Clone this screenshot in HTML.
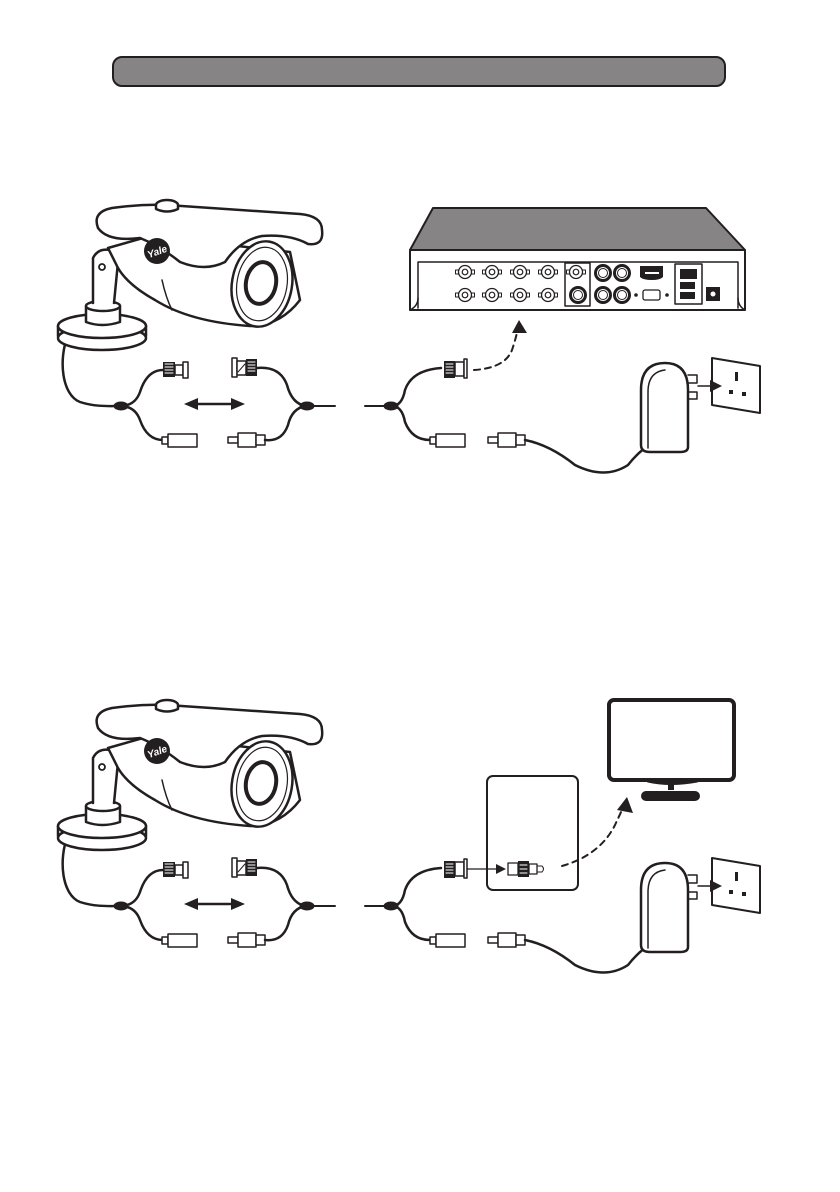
<!DOCTYPE html>
<html><head><meta charset="utf-8"><style>html,body{margin:0;padding:0;background:#fff}svg{display:block}</style></head>
<body>
<svg width="840" height="1192" viewBox="0 0 840 1192" xmlns="http://www.w3.org/2000/svg" fill="none" stroke="#231f20" stroke-linecap="round" stroke-linejoin="round">
<defs>
<g id="cam">
  <!-- base -->
  <path d="M68,335 C58,360 62,395 80,402 C95,407 110,406 120,406" stroke-width="2.5"/>
  <ellipse cx="102" cy="338" rx="44" ry="12" fill="#fff" stroke-width="2.5"/>
  <path d="M58,326 L58,336 M146,326 L146,336" stroke-width="2.5"/>
  <ellipse cx="102" cy="326" rx="44" ry="12" fill="#fff" stroke-width="2.5"/>
  <path d="M86,306 L86,322 Q102,328 120,322 L120,306 Z" fill="#fff" stroke-width="2.5"/>
  <ellipse cx="103" cy="306" rx="17" ry="5" fill="#fff" stroke-width="2.5"/>
  <!-- arm -->
  <path d="M93,303 L93,258 Q98,248 110,250 L118,262 L114,303" fill="#fff" stroke-width="2.5"/>
  <circle cx="102" cy="267" r="3" stroke-width="1.8"/>
  <!-- body -->
  <path d="M108,248 L150,236 L290,252 L300,300 Q280,326 250,326 Q190,322 155,300 Q128,285 118,268 Z" fill="#fff" stroke-width="2.5"/>
  <path d="M162,280 Q166,298 172,310" stroke-width="1.5"/>
  <!-- hood -->
  <path d="M98,228 Q92,212 112,208 Q140,204 167,205 Q240,210 300,214 Q322,216 322,230 Q324,246 308,244 Q290,234 262,236 Q240,240 225,262 Q205,272 180,262 Q160,246 140,238 Q108,242 98,228 Z" fill="#fff" stroke-width="2.5"/>
  <ellipse cx="167" cy="205" rx="11" ry="5" fill="#fff" stroke-width="2.5"/>
  <path d="M156,205 L156,209 Q167,214 178,209 L178,205" fill="#fff" stroke-width="2.5"/>
  <!-- lens -->
  <ellipse cx="262" cy="284" rx="30" ry="43" transform="rotate(10 262 284)" fill="#fff" stroke-width="2.5"/>
  <ellipse cx="262" cy="284" rx="25" ry="37" transform="rotate(10 262 284)" stroke-width="1.2"/>
  <ellipse cx="261" cy="283" rx="15" ry="21" transform="rotate(10 261 283)" stroke-width="4"/>
  <circle cx="157" cy="251" r="13" fill="#231f20" stroke="none"/>
  <text x="157" y="255" font-family="Liberation Sans, sans-serif" font-size="10" font-weight="bold" font-style="italic" fill="#fff" stroke="none" text-anchor="middle" transform="rotate(-20 157 251)">Yale</text>
  <!-- cable left -->
  <path d="M120,406 Q135,406 140,392 Q147,370 163,370" stroke-width="2.5"/>
  <path d="M120,406 Q135,406 140,420 Q147,440 163,440" stroke-width="2.5"/>
  <ellipse cx="121" cy="406" rx="7" ry="4" fill="#231f20"/>
  <!-- BNC female -->
  <rect x="163" y="362" width="12" height="15" fill="#231f20" stroke="none"/>
  <path d="M165,364 H173 M165,367 H173 M165,370 H173 M165,373 H173" stroke="#fff" stroke-width="1"/>
  <rect x="175" y="365" width="8" height="10" fill="#fff" stroke-width="1.5"/>
  <rect x="183" y="362" width="5" height="16" fill="#fff" stroke-width="1.5"/>
  <!-- DC female -->
  <rect x="162" y="437" width="6" height="7" fill="#fff" stroke-width="1.5"/>
  <rect x="168" y="434" width="29" height="13" fill="#fff" stroke-width="1.5"/>
  <!-- double arrow -->
  <path d="M195,404 H235" stroke-width="2.5"/>
  <path d="M184,404 L198,398 L198,410 Z M245,404 L231,398 L231,410 Z" fill="#231f20" stroke="none"/>
  <!-- BNC male -->
  <rect x="232" y="358" width="5" height="19" fill="#fff" stroke-width="1.5"/>
  <rect x="237" y="361" width="9" height="14" fill="#fff" stroke-width="1.5"/>
  <path d="M238,372 L245,364" stroke-width="1"/>
  <rect x="246" y="359" width="11" height="17" fill="#231f20" stroke="none"/>
  <path d="M248,362 H255 M248,365 H255 M248,368 H255 M248,371 H255" stroke="#fff" stroke-width="1"/>
  <!-- DC male -->
  <rect x="228" y="437" width="10" height="6" fill="#fff" stroke-width="1.5"/>
  <rect x="238" y="433" width="18" height="14" fill="#fff" stroke-width="1.5"/>
  <rect x="256" y="435" width="9" height="10" fill="#fff" stroke-width="1.5"/>
  <!-- cable mid -->
  <path d="M257,368 Q280,366 287,385 Q292,404 306,406" stroke-width="2.5"/>
  <path d="M265,440 Q282,442 288,425 Q292,408 306,406" stroke-width="2.5"/>
  <ellipse cx="307" cy="406" rx="7" ry="4" fill="#231f20"/>
  <path d="M306,406 H335" stroke-width="2"/>
  <path d="M365,406 H392" stroke-width="2"/>
  <ellipse cx="391" cy="406" rx="7" ry="4" fill="#231f20"/>
  <path d="M392,406 Q402,406 405,390 Q412,370 441,368" stroke-width="2.5"/>
  <path d="M392,406 Q402,406 405,422 Q412,440 430,440" stroke-width="2.5"/>
  <!-- right DC female -->
  <rect x="430" y="437" width="6" height="7" fill="#fff" stroke-width="1.5"/>
  <rect x="436" y="434" width="29" height="13" fill="#fff" stroke-width="1.5"/>
  <!-- right DC male -->
  <rect x="488" y="437" width="10" height="6" fill="#fff" stroke-width="1.5"/>
  <rect x="498" y="433" width="18" height="14" fill="#fff" stroke-width="1.5"/>
  <rect x="516" y="435" width="9" height="10" fill="#fff" stroke-width="1.5"/>
  <path d="M525,440 Q550,445 575,465 Q605,480 628,465 Q640,450 650,445" stroke-width="2.5"/>
  <!-- adapter -->
  <path d="M641,445 L641,390 Q641,363 665,363 Q688,363 688,390 L688,447 Q688,452 680,452 L650,452 Q641,452 641,445 Z" fill="#fff" stroke-width="2.5"/>
  <path d="M648,448 L648,392 Q648,372 665,370" stroke-width="1.5"/>
  <path d="M688,375 H697 V383 H688 M688,392 H697 V399 H688" stroke-width="1.5"/>
  <!-- wall socket -->
  <path d="M712,358 L760,366 L760,413 L712,405 Z" fill="#fff" stroke-width="2"/>
  <path d="M698,386 H712" stroke-width="1.5"/>
  <path d="M722,386 L710,380 L710,392 Z" fill="#231f20" stroke="none"/>
  <rect x="735" y="372" width="3" height="9" fill="#231f20" stroke="none"/>
  <rect x="729" y="390" width="4" height="4" fill="#231f20" stroke="none"/>
  <rect x="742" y="392" width="4" height="4" fill="#231f20" stroke="none"/>
</g>
<g id="bncf"><circle r="6.5" fill="#fff" stroke-width="1.3"/><circle r="2.8" stroke-width="1.2"/><rect x="-9.5" y="-2" width="3" height="4" stroke-width="1"/><rect x="6.5" y="-2" width="3" height="4" stroke-width="1"/></g>
<g id="rca"><circle r="7.5" fill="#fff" stroke-width="3"/><circle r="4.5" stroke-width="1"/></g>
</defs>

<rect x="113" y="57" width="612" height="29" rx="9" fill="#868484" stroke-width="2"/>

<use href="#cam"/>
<!-- top right BNC + dashed -->
<rect x="444" y="361" width="11" height="17" fill="#231f20" stroke="none"/>
<path d="M446,364 H453 M446,367 H453 M446,370 H453 M446,373 H453" stroke="#fff" stroke-width="1"/>
<rect x="455" y="362" width="9" height="14" fill="#fff" stroke-width="1.5"/>
<rect x="464" y="359" width="3" height="19" fill="#fff" stroke-width="1.5"/>
<path d="M474,370 Q505,368 512,350 Q516,338 517,332" stroke-width="2" stroke-dasharray="6,5"/>
<path d="M512,333 L519,320 L527,333 Z" fill="#231f20" stroke="none"/>

<!-- DVR -->
<path d="M410,250 L433,208 L706,208 L745,250 Z" fill="#868484" stroke-width="2"/>
<rect x="410" y="250" width="335" height="60" fill="#fff" stroke-width="2"/>
<path d="M418,308 L418,262 L738,262 L738,308" stroke-width="1.5"/>
<path d="M410,310 Q418,306 418,298 M745,310 Q738,306 738,298" stroke-width="1.5"/>
<use href="#bncf" x="465" y="272"/><use href="#bncf" x="492" y="272"/><use href="#bncf" x="520" y="272"/><use href="#bncf" x="548" y="272"/><use href="#bncf" x="576" y="272"/>
<use href="#bncf" x="465" y="295"/><use href="#bncf" x="492" y="295"/><use href="#bncf" x="520" y="295"/><use href="#bncf" x="548" y="295"/>
<rect x="565" y="263" width="25" height="43" stroke-width="1.5"/>
<use href="#rca" x="578" y="295"/>
<use href="#rca" x="603" y="273"/><use href="#rca" x="622" y="273"/><use href="#rca" x="603" y="295"/><use href="#rca" x="622" y="295"/>
<path d="M640,266 H663 V277 Q660,280 652,280 Q643,280 640,277 Z" fill="#231f20" stroke="none"/>
<rect x="645" y="272" width="14" height="2" fill="#fff" stroke="none"/>
<rect x="643" y="290" width="17" height="10" rx="2" fill="#fff" stroke-width="1.3"/>
<circle cx="636" cy="295" r="1.8" fill="#231f20" stroke="none"/><circle cx="667" cy="295" r="1.8" fill="#231f20" stroke="none"/>
<rect x="675" y="264" width="27" height="40" stroke-width="1.5"/>
<rect x="680" y="269" width="17" height="10" fill="#231f20" stroke="none"/>
<rect x="680" y="282" width="15" height="7" fill="#231f20" stroke="none"/>
<rect x="680" y="292" width="15" height="7" fill="#231f20" stroke="none"/>
<rect x="706" y="287" width="14" height="14" fill="#231f20" stroke="none"/>
<circle cx="713" cy="294" r="2.5" fill="#fff" stroke="none"/>

<!-- second scene -->
<g transform="translate(0,500)"><use href="#cam"/></g>
<rect x="487" y="776" width="91" height="114" rx="6" fill="#fff" stroke-width="2"/>
<rect x="444" y="861" width="11" height="17" fill="#231f20" stroke="none"/>
<path d="M446,864 H453 M446,867 H453 M446,870 H453 M446,873 H453" stroke="#fff" stroke-width="1"/>
<rect x="455" y="862" width="9" height="14" fill="#fff" stroke-width="1.5"/>
<rect x="464" y="859" width="3" height="19" fill="#fff" stroke-width="1.5"/>
<path d="M467,869 H500" stroke-width="1.3"/>
<path d="M506,869 L496,864 L496,874 Z" fill="#231f20" stroke="none"/>
<rect x="508" y="863" width="10" height="12" fill="#fff" stroke-width="1.3"/>
<rect x="518" y="861" width="11" height="16" fill="#231f20" stroke="none"/>
<path d="M520,865 H527 M520,869 H527 M520,873 H527" stroke="#fff" stroke-width="1"/>
<rect x="529" y="864" width="8" height="10" fill="#fff" stroke-width="1.3"/>
<path d="M537,866 H542 Q545,869 542,872 H537" stroke-width="1"/>
<path d="M562,866 Q600,855 615,825 Q621,812 623,808" stroke-width="2" stroke-dasharray="6,5"/>
<path d="M617,810 L627,797 L633,813 Z" fill="#231f20" stroke="none"/>
<!-- TV -->
<rect x="609" y="700" width="125" height="80" rx="5" stroke-width="4"/>
<path d="M648,781 Q670,786 697,781" stroke-width="3"/>
<rect x="668" y="780" width="6" height="10" fill="#231f20" stroke="none"/>
<rect x="641" y="791" width="59" height="10" rx="5" fill="#231f20" stroke="none"/>
</svg>
</body></html>
